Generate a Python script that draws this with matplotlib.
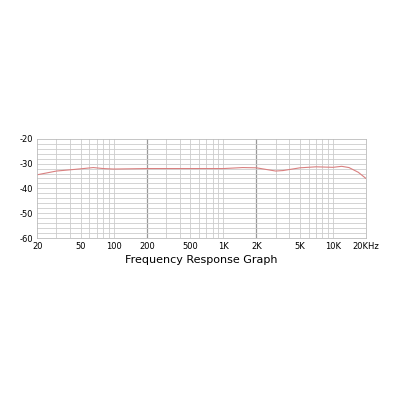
import numpy as np
import matplotlib.pyplot as plt

plt.rcParams['axes.unicode_minus'] = False

freq = [20, 30, 40, 50, 65, 80, 100, 200, 500, 1000, 1500, 2000, 3000, 3500, 5000, 7000, 10000, 12000, 14000, 17000, 20000]
level = [-34.5, -33, -32.5, -32.1, -31.6, -32, -32.2, -32, -32, -32, -31.6, -31.7, -33, -32.8, -31.7, -31.3, -31.5, -31.1, -31.6, -33.5, -36]
tick_vals = [20, 50, 100, 200, 500, 1000, 2000, 5000, 10000, 20000]
tick_labels = ['20', '50', '100', '200', '500', '1K', '2K', '5K', '10K', '20KHz']

fig = plt.figure(figsize=(4, 4), dpi=100)
ax = fig.add_axes([0.093, 0.405, 0.822, 0.248])
ax.set_xscale('log')
ax.set_xlim(20, 20000)
ax.set_ylim(-60, -20)

# grid: every decade step, heavier at 200 and 2K
for d in [10, 100, 1000, 10000]:
    for m in range(1, 10):
        f = d * m
        if 20 < f < 20000:
            heavy = f in (200, 2000)
            ax.axvline(f, color='#999999' if heavy else '#cccccc', lw=0.9 if heavy else 0.6, zorder=0)
for y in range(-58, -20, 2):
    ax.axhline(y, color='#cccccc', lw=0.6, zorder=0)

ax.plot(freq, level, color='#d98080', lw=0.8)

ax.set_xticks(tick_vals)
ax.set_xticklabels(tick_labels, fontsize=6)
ax.minorticks_off()
ax.set_yticks([-60, -50, -40, -30, -20])
ax.tick_params(labelsize=6, length=0, pad=3)
for s in ax.spines.values():
    s.set_color('#bbbbbb')
    s.set_linewidth(0.6)
ax.set_xlabel('Frequency Response Graph', fontsize=8, labelpad=3)

fig.savefig('out.png')
